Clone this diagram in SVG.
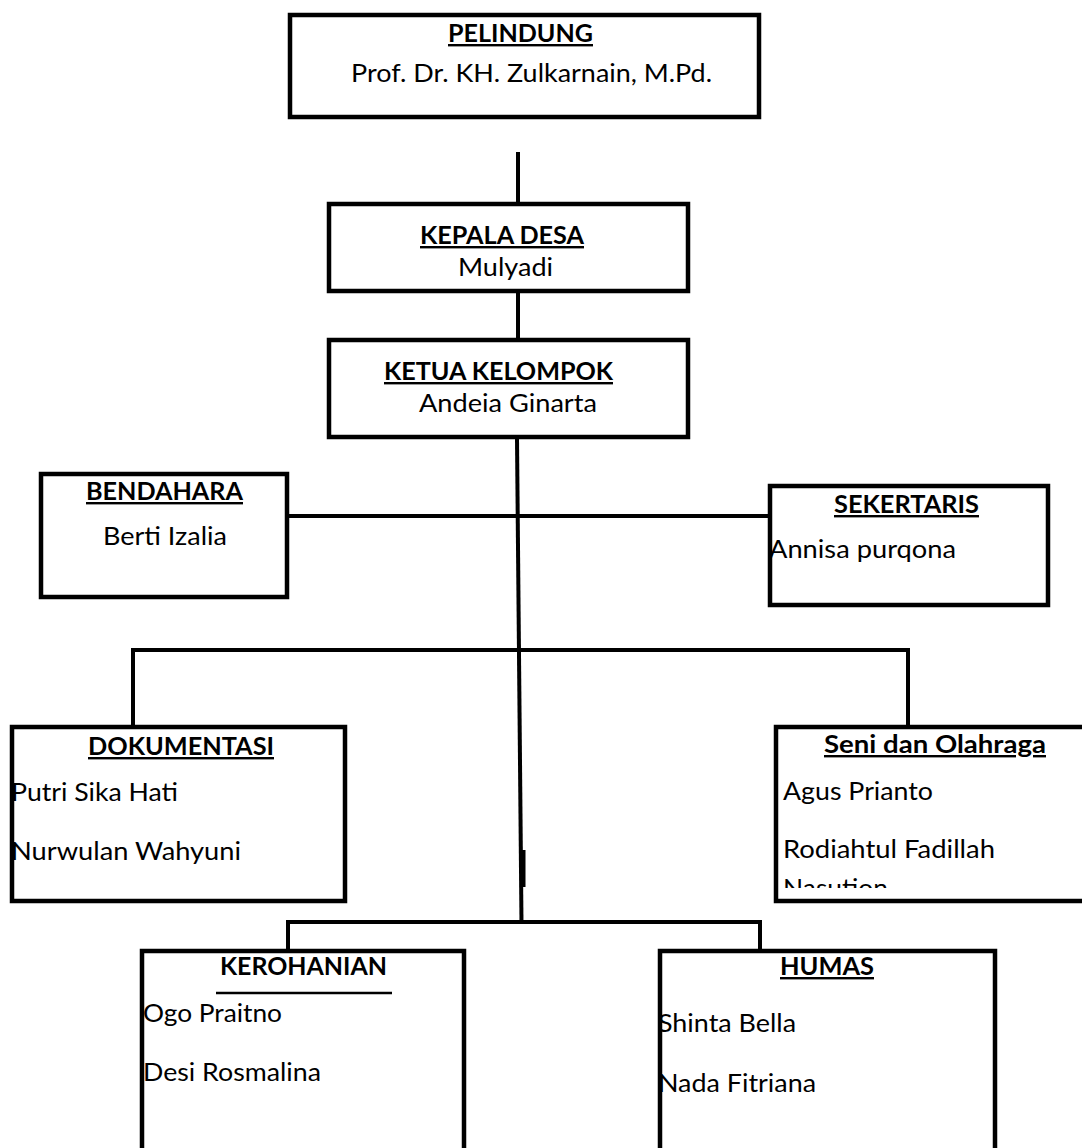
<svg xmlns="http://www.w3.org/2000/svg" width="1082" height="1148" viewBox="0 0 1082 1148">
<style>
.box{fill:#fff;stroke:#000;stroke-width:4.5}
.con{fill:none;stroke:#000;stroke-width:4}
.t{font-family:Lato,"Open Sans","Liberation Sans",sans-serif;font-size:25px;fill:#000}
.h{font-family:Lato,"Open Sans","Liberation Sans",sans-serif;font-size:24px;font-weight:bold;fill:#000}
.u{text-decoration:underline}
</style>
<defs>
<clipPath id="seniClip"><rect x="776" y="727" width="310" height="161"/></clipPath>
</defs>
<rect width="1082" height="1148" fill="#fff"/>
<g id="connectors">
<line class="con" x1="518" y1="152" x2="518" y2="204"/>
<line class="con" x1="518" y1="291" x2="518" y2="340"/>
<line class="con" x1="517" y1="439" x2="521.5" y2="924"/>
<rect x="520" y="850" width="5.5" height="37" fill="#000"/>
<line class="con" x1="289" y1="516" x2="775" y2="516"/>
<polyline class="con" points="133,727 133,650 908,650 908,727"/>
<polyline class="con" points="288,951 288,922 760,922 760,951"/>
</g>
<g id="pelindung">
<rect class="box" x="290" y="15" width="469" height="102"/>
<text class="h u" x="448" y="42" textLength="145" lengthAdjust="spacingAndGlyphs">PELINDUNG</text>
<text class="t" x="351" y="82" textLength="361" lengthAdjust="spacingAndGlyphs">Prof. Dr. KH. Zulkarnain, M.Pd.</text>
</g>
<g id="kepala-desa">
<rect class="box" x="329" y="204" width="359" height="87"/>
<text class="h u" x="420" y="244" textLength="164" lengthAdjust="spacingAndGlyphs">KEPALA DESA</text>
<text class="t" x="458" y="276" textLength="95" lengthAdjust="spacingAndGlyphs">Mulyadi</text>
</g>
<g id="ketua-kelompok">
<rect class="box" x="329" y="340" width="359" height="97"/>
<text class="h u" x="384" y="380" textLength="229" lengthAdjust="spacingAndGlyphs">KETUA KELOMPOK</text>
<text class="t" x="419" y="412" textLength="178" lengthAdjust="spacingAndGlyphs">Andeia Ginarta</text>
</g>
<g id="bendahara">
<rect class="box" x="41" y="474" width="246" height="123"/>
<text class="h u" x="86" y="500" textLength="157" lengthAdjust="spacingAndGlyphs">BENDAHARA</text>
<text class="t" x="103" y="545" textLength="124" lengthAdjust="spacingAndGlyphs">Berti Izalia</text>
</g>
<g id="sekertaris">
<rect class="box" x="770" y="486" width="278" height="119"/>
<text class="h u" x="834" y="513" textLength="145" lengthAdjust="spacingAndGlyphs">SEKERTARIS</text>
<text class="t" x="769" y="558" textLength="187" lengthAdjust="spacingAndGlyphs">Annisa purqona</text>
</g>
<g id="dokumentasi">
<rect class="box" x="12" y="727" width="333" height="174"/>
<text class="h u" x="88" y="755" textLength="186" lengthAdjust="spacingAndGlyphs">DOKUMENTASI</text>
<text class="t" x="11" y="801" textLength="167" lengthAdjust="spacingAndGlyphs">Putri Sika Hati</text>
<text class="t" x="11" y="860" textLength="230" lengthAdjust="spacingAndGlyphs">Nurwulan Wahyuni</text>
</g>
<g id="seni-olahraga">
<rect class="box" x="776" y="727" width="320" height="174"/>
<text class="h u" x="824" y="753" textLength="222" lengthAdjust="spacingAndGlyphs">Seni dan Olahraga</text>
<g clip-path="url(#seniClip)">
<text class="t" x="783" y="800" textLength="150" lengthAdjust="spacingAndGlyphs">Agus Prianto</text>
<text class="t" x="783" y="858" textLength="212" lengthAdjust="spacingAndGlyphs">Rodiahtul Fadillah</text>
<text class="t" x="783" y="897" textLength="105" lengthAdjust="spacingAndGlyphs">Nasution</text>
</g>
</g>
<g id="kerohanian">
<rect class="box" x="142" y="951" width="322" height="300"/>
<text class="h" x="220" y="975" textLength="167" lengthAdjust="spacingAndGlyphs">KEROHANIAN</text>
<line x1="216" y1="993" x2="392" y2="993" stroke="#000" stroke-width="2.5"/>
<text class="t" x="143" y="1022" textLength="139" lengthAdjust="spacingAndGlyphs">Ogo Praitno</text>
<text class="t" x="143" y="1081" textLength="178" lengthAdjust="spacingAndGlyphs">Desi Rosmalina</text>
</g>
<g id="humas">
<rect class="box" x="660" y="951" width="335" height="300"/>
<text class="h u" x="780" y="975" textLength="94" lengthAdjust="spacingAndGlyphs">HUMAS</text>
<text class="t" x="658" y="1032" textLength="138" lengthAdjust="spacingAndGlyphs">Shinta Bella</text>
<text class="t" x="658" y="1092" textLength="158" lengthAdjust="spacingAndGlyphs">Nada Fitriana</text>
</g>
</svg>
